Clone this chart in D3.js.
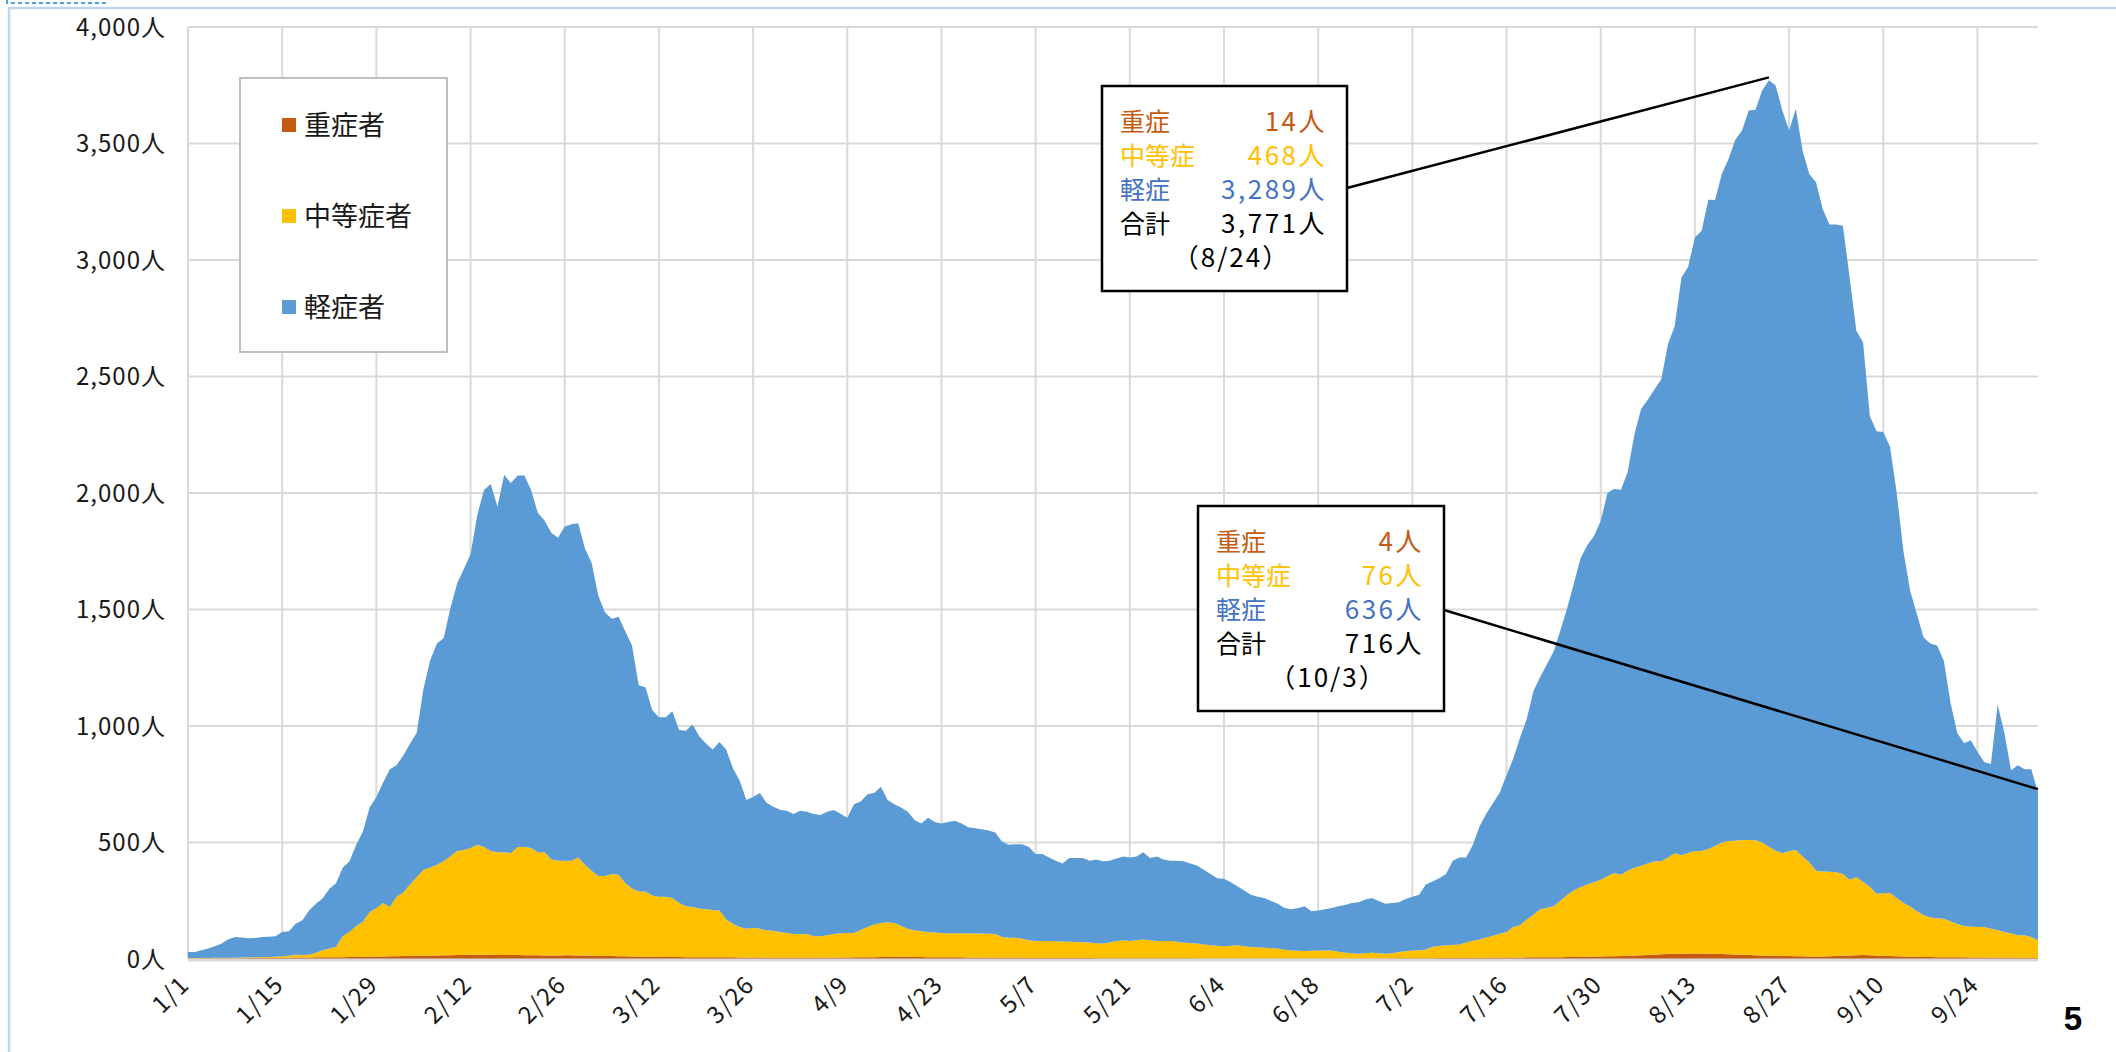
<!DOCTYPE html>
<html>
<head>
<meta charset="utf-8">
<script src="https://cdn.jsdelivr.net/npm/d3@7"></script>
<style>
    body { margin: 0; background: #ffffff; }
    text { font-family: "Noto Sans CJK JP", "Noto Sans", sans-serif; }
</style>
</head>
<body>
<div id="chart"></div>
<script>
    // daily values from 2021-01-01 to 2021-10-03
    var startDate = new Date(2021, 0, 1);

    var seriesNames = ["重症者", "中等症者", "軽症者"];
    var seriesColors = ["#C55A11", "#FFC000", "#5B9BD5"];

    var severe = [
        2,2,2,3,3,3,3, 3,3,4,4,4,4,5, 5,5,6,6,6,7,7, 7,8,8,9,9,10,10,
        11,11,12,12,13,13,14, 14,15,15,16,16,17,17, 18,18,18,18,17,17,17, 17,16,16,16,15,15,15,
        16,16,15,15,14,14,13, 13,12,12,11,11,10,10, 10,9,9,9,8,8,8, 8,7,7,7,7,6,6,
        6,6,6,5,5,5,5, 5,5,5,5,6,6,6, 6,7,7,8,8,9,9, 10,10,10,9,9,8,8,
        8,7,7,7,6,6,6, 6,5,5,5,5,5,4, 4,4,4,4,4,4,4, 4,4,3,3,3,3,3,
        3,3,3,3,3,3,3, 3,3,3,2,2,2,2, 2,2,2,2,2,2,2, 2,2,2,2,2,2,2,
        2,2,2,2,2,2,2, 2,2,2,2,3,3,3, 3,3,3,3,4,4,4, 4,4,4,5,5,5,5,
        6,6,6,7,7,7,8, 8,8,9,9,10,10,11, 11,12,12,13,14,15,16, 17,18,20,21,22,23,24,
        24,24,23,22,21,20,19, 18,17,16,15,14,14,13, 13,12,12,11,11,11,12, 13,14,15,16,17,16,15,
        14,13,12,11,10,10,9, 9,8,8,7,7,7,6, 6,6,6,5,5,5,5, 5,4,4
    ];

    var moderate = [
        2,2,2,1,2,2,2, 2,3,2,3,4,5,5, 7,9,12,11,12,20,31, 38,44,90,107,133,150,191,
        208,229,211,255,272,307,337, 369,377,389,403,424,446,451, 458,472,463,445,441,441,437, 464,465,460,442,443,412,407,
        406,406,421,389,365,342,343, 352,350,314,292,279,280,262, 257,258,253,231,218,215,209, 206,203,201,162,144,131,124,
        128,124,117,116,111,107,102, 102,102,93,93,96,101,104, 106,105,118,129,140,146,149, 145,132,120,114,110,108,106,
        104,104,103,103,103,103,103, 102,102,89,86,86,82,76, 73,73,73,72,71,70,69, 68,67,65,63,68,74,77,
        74,77,81,77,74,74,74, 71,68,65,64,60,57,55, 53,55,57,53,50,48,46, 44,43,38,34,33,32,33,
        35,34,34,29,25,23,21, 23,25,23,21,22,27,30, 33,35,38,50,52,55,56, 58,67,74,79,87,95,103,
        110,131,139,163,183,207,212, 218,242,266,286,298,310,318, 329,343,357,349,365,377,384, 393,401,399,415,432,422,431,
        439,439,449,463,479,486,489, 493,494,494,485,468,451,441, 450,456,428,404,368,365,362, 359,351,325,335,313,294,265,
        268,270,250,229,215,195,179, 169,167,165,155,143,135,134, 131,131,124,120,111,105,97, 97,90,76
    ];

    var mild = [
        26,26,34,41,50,61,80, 89,86,83,83,86,87,88, 104,105,133,149,190,210,222, 255,273,294,303,348,387,449,
        476,517,591,565,588,604,620, 777,890,950,958,1065,1149,1206, 1261,1416,1532,1576,1483,1620,1589, 1594,1594,1537,1457,1424,1402,1386,
        1434,1444,1434,1359,1322,1202,1131, 1095,1107,1081,1042,885,876,797, 771,771,801,743,754,783,739, 711,689,723,730,668,629,552,
        561,582,548,532,525,524,515, 529,525,524,520,530,532,513, 494,552,551,570,564,584,524, 509,508,502,474,463,490,474,
        470,477,483,472,456,452,448, 444,436,410,399,402,406,401, 374,374,359,346,335,359,360, 361,351,359,353,351,354,360,
        359,360,374,353,363,350,345, 348,348,342,335,321,306,290, 289,272,253,239,224,217,214, 203,192,179,178,184,192,170,
        171,178,183,195,205,215,221, 230,235,224,214,215,214,225, 231,238,279,280,291,306,362, 374,365,412,486,533,570,607,
        674,723,805,860,960,996,1045, 1094,1160,1230,1315,1412,1456,1486, 1540,1645,1649,1651,1711,1858,1960, 1990,2026,2069,2203,2263,2480,2516,
        2634,2663,2787,2773,2869,2928,3008, 3045,3131,3135,3228,3289,3284,3188, 3093,3181,3030,2954,2955,2843,2778, 2780,2782,2585,2345,2316,2020,1985,
        1980,1917,1738,1510,1355,1275,1192, 1176,1170,1107,938,820,784,799, 753,709,707,967,855,700,730, 712,720,636
    ];

    var xTickLabels = ["1/1", "1/15", "1/29", "2/12", "2/26", "3/12", "3/26", "4/9", "4/23",
                       "5/7", "5/21", "6/4", "6/18", "7/2", "7/16", "7/30", "8/13", "8/27", "9/10", "9/24"];
    var yTickValues = [0, 500, 1000, 1500, 2000, 2500, 3000, 3500, 4000];

    // callout boxes
    var callouts = [
        {date: "8/24", rows: [["重症", "14人"], ["中等症", "468人"], ["軽症", "3,289人"], ["合計", "3,771人"]], total: 3771},
        {date: "10/3", rows: [["重症", "4人"], ["中等症", "76人"], ["軽症", "636人"], ["合計", "716人"]], total: 716}
    ];
    var calloutColors = ["#C55A11", "#FFC000", "#4472C4", "#000000"];

    var width = 2116, height = 1052;
    var plot = {left: 188, right: 2038, top: 27, bottom: 959};

    function parseMD(s) {
        var p = s.split("/");
        return new Date(2021, +p[0] - 1, +p[1]);
    }

    var data = severe.map(function (v, i) {
        return {date: d3.timeDay.offset(startDate, i), s: v, m: moderate[i], l: mild[i]};
    });

    var x = d3.scaleTime()
        .domain([startDate, data[data.length - 1].date])
        .range([plot.left, plot.right]);
    var y = d3.scaleLinear()
        .domain([0, 4000])
        .range([plot.bottom, plot.top]);

    var svg = d3.select("#chart").append("svg")
        .attr("width", width)
        .attr("height", height);

    svg.append("rect").attr("width", width).attr("height", height).attr("fill", "#ffffff");

    // light blue frame (top + left)
    svg.append("path")
        .attr("d", "M9,1052V8H2116")
        .attr("fill", "none")
        .attr("stroke", "#bdd7ee")
        .attr("stroke-width", 2.5);
    svg.append("path")
        .attr("d", "M7,0V3H106V0")
        .attr("fill", "none")
        .attr("stroke", "#4ba3e0")
        .attr("stroke-width", 2)
        .attr("stroke-dasharray", "4,3");

    // gridlines
    var grid = svg.append("g");
    grid.selectAll("line.h")
        .data(yTickValues)
        .enter().append("line")
        .attr("x1", plot.left).attr("x2", plot.right)
        .attr("y1", function (d) { return y(d); })
        .attr("y2", function (d) { return y(d); })
        .attr("stroke", "#d9d9d9")
        .attr("stroke-width", 2);
    grid.selectAll("line.v")
        .data(xTickLabels)
        .enter().append("line")
        .attr("x1", function (d) { return x(parseMD(d)); })
        .attr("x2", function (d) { return x(parseMD(d)); })
        .attr("y1", plot.top).attr("y2", plot.bottom)
        .attr("stroke", "#d9d9d9")
        .attr("stroke-width", 2);

    // stacked areas
    var stack = d3.stack().keys(["s", "m", "l"]);
    var layers = stack(data);

    var area = d3.area()
        .x(function (d) { return x(d.data.date); })
        .y0(function (d) { return y(d[0]); })
        .y1(function (d) { return y(d[1]); });

    svg.append("g").selectAll("path")
        .data(layers)
        .enter().append("path")
        .attr("d", area)
        .attr("fill", function (d, i) { return seriesColors[i]; });

    // x axis line
    svg.append("line")
        .attr("x1", plot.left).attr("x2", plot.right)
        .attr("y1", plot.bottom + 1).attr("y2", plot.bottom + 1)
        .attr("stroke", "#d9d9d9")
        .attr("stroke-width", 3);

    // y labels
    svg.append("g").selectAll("text")
        .data(yTickValues)
        .enter().append("text")
        .attr("x", 166)
        .attr("y", function (d) { return y(d); })
        .attr("dy", "0.36em")
        .attr("text-anchor", "end")
        .attr("font-size", 24)
        .attr("letter-spacing", 1)
        .attr("fill", "#1a1a1a")
        .text(function (d) { return d3.format(",")(d) + "人"; });

    // x labels, rotated
    svg.append("g").selectAll("text")
        .data(xTickLabels)
        .enter().append("text")
        .attr("transform", function (d) {
            return "translate(" + (x(parseMD(d)) + 3) + "," + (plot.bottom + 27) + ") rotate(-45)";
        })
        .attr("text-anchor", "end")
        .attr("font-size", 24)
        .attr("letter-spacing", 1.5)
        .attr("fill", "#1a1a1a")
        .text(function (d) { return d; });

    // legend
    var legend = svg.append("g");
    legend.append("rect")
        .attr("x", 240).attr("y", 78)
        .attr("width", 207).attr("height", 274)
        .attr("fill", "#ffffff")
        .attr("stroke", "#bfbfbf")
        .attr("stroke-width", 2);
    var item = legend.selectAll("g")
        .data(seriesNames)
        .enter().append("g")
        .attr("transform", function (d, i) { return "translate(282," + (125 + i * 91) + ")"; });
    item.append("rect")
        .attr("x", 0).attr("y", -7)
        .attr("width", 14).attr("height", 14)
        .attr("fill", function (d, i) { return seriesColors[i]; });
    item.append("text")
        .attr("x", 22)
        .attr("dy", "0.36em")
        .attr("font-size", 27)
        .attr("fill", "#1a1a1a")
        .text(function (d) { return d; });

    // callouts
    var boxes = [
        {x: 1102, y: 86, w: 245, h: 205, from: [1347, 188]},
        {x: 1198, y: 506, w: 246, h: 205, from: [1444, 610]}
    ];

    callouts.forEach(function (c, k) {
        var b = boxes[k];
        var g = svg.append("g");
        var d = parseMD(c.date);
        g.append("line")
            .attr("x1", b.from[0]).attr("y1", b.from[1])
            .attr("x2", x(d)).attr("y2", y(c.total) - 3)
            .attr("stroke", "#000000")
            .attr("stroke-width", 2.5);
        g.append("rect")
            .attr("x", b.x).attr("y", b.y)
            .attr("width", b.w).attr("height", b.h)
            .attr("fill", "#ffffff")
            .attr("stroke", "#000000")
            .attr("stroke-width", 2.5);
        c.rows.forEach(function (r, i) {
            var ty = b.y + 36 + i * 34;
            g.append("text")
                .attr("x", b.x + 18).attr("y", ty)
                .attr("dy", "0.36em")
                .attr("font-size", 25)
                .attr("fill", calloutColors[i])
                .text(r[0]);
            g.append("text")
                .attr("x", b.x + b.w - 20).attr("y", ty)
                .attr("dy", "0.36em")
                .attr("text-anchor", "end")
                .attr("font-size", 26)
                .attr("letter-spacing", 2.5)
                .attr("fill", calloutColors[i])
                .text(r[1]);
        });
        g.append("text")
            .attr("x", b.x + b.w / 2 + 7).attr("y", b.y + 36 + 4 * 34)
            .attr("dy", "0.36em")
            .attr("text-anchor", "middle")
            .attr("font-size", 26)
            .attr("letter-spacing", 2)
            .attr("fill", "#000000")
            .text("（" + c.date + "）");
    });

    // page number
    svg.append("text")
        .attr("x", 2073).attr("y", 1030)
        .attr("text-anchor", "middle")
        .attr("font-size", 33)
        .attr("font-weight", "bold")
        .style("font-family", "'Liberation Sans', Arial, sans-serif")
        .attr("fill", "#000000")
        .text("5");
</script>
</body>
</html>
